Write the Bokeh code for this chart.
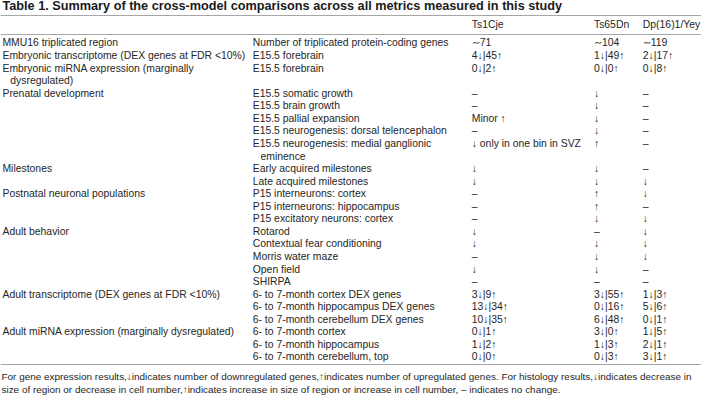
from bokeh.plotting import figure
from bokeh.models import ColumnDataSource, Range1d
from bokeh.core.properties import value
from bokeh.embed import file_html
from bokeh.resources import INLINE

title_text = "Table 1. Summary of the cross-model comparisons across all metrics measured in this study"
col_headers = ["Ts1Cje", "Ts65Dn", "Dp(16)1/Yey"]

# one entry per printed line of the table body ("" = empty cell); indented continuation lines flagged
categories = [
    "MMU16 triplicated region",
    "Embryonic transcriptome (DEX genes at FDR <10%)",
    "Embryonic miRNA expression (marginally",
    "dysregulated)",
    "Prenatal development", "", "", "", "", "",
    "Milestones", "",
    "Postnatal neuronal populations", "", "",
    "Adult behavior", "", "", "", "",
    "Adult transcriptome (DEX genes at FDR <10%)", "", "",
    "Adult miRNA expression (marginally dysregulated)", "", "",
]
category_indent = [0, 0, 0, 1] + [0] * 22

measures = [
    "Number of triplicated protein-coding genes",
    "E15.5 forebrain",
    "E15.5 forebrain",
    "",
    "E15.5 somatic growth",
    "E15.5 brain growth",
    "E15.5 pallial expansion",
    "E15.5 neurogenesis: dorsal telencephalon",
    "E15.5 neurogenesis: medial ganglionic",
    "eminence",
    "Early acquired milestones",
    "Late acquired milestones",
    "P15 interneurons: cortex",
    "P15 interneurons: hippocampus",
    "P15 excitatory neurons: cortex",
    "Rotarod",
    "Contextual fear conditioning",
    "Morris water maze",
    "Open field",
    "SHIRPA",
    "6- to 7-month cortex DEX genes",
    "6- to 7-month hippocampus DEX genes",
    "6- to 7-month cerebellum DEX genes",
    "6- to 7-month cortex",
    "6- to 7-month hippocampus",
    "6- to 7-month cerebellum, top",
]
measure_indent = [0] * 9 + [1] + [0] * 16

ts1cje = ["∼71", "4↓|45↑", "0↓|2↑", "", "–", "–", "Minor ↑", "–", "↓ only in one bin in SVZ", "",
          "↓", "↓", "–", "–", "–", "↓", "↓", "–", "↓", "–",
          "3↓|9↑", "13↓|34↑", "10↓|35↑", "0↓|1↑", "1↓|2↑", "0↓|0↑"]
ts65dn = ["∼104", "1↓|49↑", "0↓|0↑", "", "↓", "↓", "↓", "↓", "↑", "",
          "↓", "↓", "↑", "↑", "↓", "–", "↓", "↓", "↓", "–",
          "3↓|55↑", "0↓|16↑", "6↓|48↑", "3↓|0↑", "1↓|3↑", "0↓|3↑"]
dp16 = ["∼119", "2↓|17↑", "0↓|8↑", "", "–", "–", "–", "–", "–", "",
        "–", "↓", "↓", "–", "↓", "↓", "↓", "↓", "–", "–",
        "1↓|3↑", "5↓|6↑", "0↓|1↑", "1↓|5↑", "2↓|1↑", "3↓|1↑"]

footer_lines = [
    "For gene expression results,↓indicates number of downregulated genes,↑indicates number of upregulated genes. For histology results,↓indicates decrease in",
    "size of region or decrease in cell number,↑indicates increase in size of region or increase in cell number, – indicates no change.",
]

# ---- layout (reference pixel space) ----
X_COL = [2, 258, 482, 607, 657]
INDENT = 8
ROW0, ROW_H = 44, 13.0
TITLE_Y, HEADER_Y = 6, 25
RULES = [15.5, 35, 377]
FOOT_Y0, FOOT_H = 389.5, 13.0

FONT = value("Liberation Sans")
TXT = "#262626"
BODY_SIZE = "10.4px"

p = figure(width=701, height=396, output_backend="svg", toolbar_location=None,
           x_range=Range1d(0, 717), y_range=Range1d(410, 0),
           x_axis_type=None, y_axis_type=None, min_border=0)
p.grid.visible = False
p.outline_line_color = None

n = len(measures)
rows_y = [ROW0 + i * ROW_H for i in range(n)]

def add_col(texts, x, indents=None, bold=False, size=BODY_SIZE, ys=None, color=TXT):
    ys = rows_y if ys is None else ys
    xs = [x + (INDENT if indents and indents[i] else 0) for i in range(len(texts))]
    src = ColumnDataSource(dict(x=xs, y=ys[:len(texts)], t=texts))
    p.text(x="x", y="y", text="t", source=src, text_font=FONT, text_font_size=size,
           text_baseline="middle", text_align="left", text_color=color,
           text_font_style="bold" if bold else "normal")

# rules
p.hspan(y=RULES, line_color="#a6a6a6", line_width=1.2)

# title
add_col([title_text], X_COL[0], bold=True, size="12.7px", ys=[TITLE_Y], color="#1a1a1a")
# header
src_h = ColumnDataSource(dict(x=X_COL[2:], y=[HEADER_Y] * 3, t=col_headers))
p.text(x="x", y="y", text="t", source=src_h, text_font=FONT, text_font_size=BODY_SIZE,
       text_baseline="middle", text_align="left", text_color=TXT)
# body
add_col(categories, X_COL[0], category_indent)
add_col(measures, X_COL[1], measure_indent)
add_col(ts1cje, X_COL[2])
add_col(ts65dn, X_COL[3])
add_col(dp16, X_COL[4])
# footer
add_col(footer_lines, 1, size="9.95px",
        ys=[FOOT_Y0 + i * FOOT_H for i in range(len(footer_lines))])

open("out.html", "w").write(file_html(p, INLINE))
